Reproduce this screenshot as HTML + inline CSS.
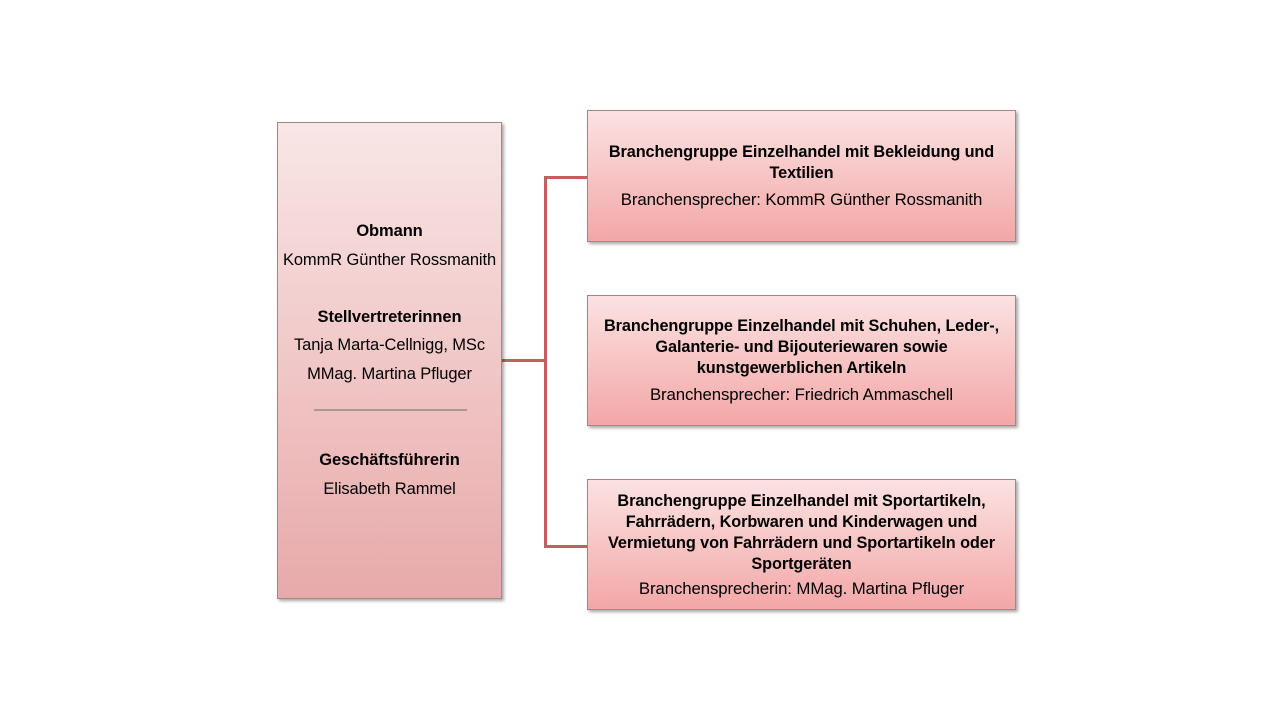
<!DOCTYPE html>
<html><head><meta charset="utf-8"><style>
body{margin:0;width:1284px;height:722px;background:#fff;position:relative;overflow:hidden;font-family:"Liberation Sans",sans-serif;color:#000}
.box{position:absolute;box-sizing:border-box;border:1px solid #a08888;box-shadow:2px 2px 3px rgba(0,0,0,.35);text-align:center;white-space:nowrap}
.l{left:277px;top:122px;width:225px;height:477px;background:linear-gradient(#f9e6e6,#e8a9a9)}
.r{left:587px;width:429px;background:linear-gradient(#fbe2e2,#f3a7a7);display:flex;flex-direction:column;justify-content:center;align-items:center}
.t{position:absolute;left:0;width:100%;text-align:center;font-size:16.5px;line-height:22px;letter-spacing:-0.1px}
b{font-weight:bold}
.r b{font-size:16.3px;line-height:21px;letter-spacing:-0.1px;display:block}
.r span{font-size:16.8px;letter-spacing:-0.1px;display:block;margin-top:6px}
.ln{position:absolute;background:#c0605f}
</style></head><body>
<div class="ln" style="left:502px;top:359px;width:45px;height:3px"></div>
<div class="ln" style="left:544px;top:176px;width:3px;height:372px"></div>
<div class="ln" style="left:544px;top:176px;width:43px;height:3px"></div>
<div class="ln" style="left:544px;top:545px;width:43px;height:3px"></div>

<div class="box l">
<div class="t" style="top:97px"><b>Obmann</b></div>
<div class="t" style="top:126px">KommR Günther Rossmanith</div>
<div class="t" style="top:183px"><b>Stellvertreterinnen</b></div>
<div class="t" style="top:211px">Tanja Marta-Cellnigg, MSc</div>
<div class="t" style="top:240px">MMag. Martina Pfluger</div>
<div style="position:absolute;left:36px;top:286px;width:153px;height:2px;background:#a89898"></div>
<div class="t" style="top:326px"><b>Geschäftsführerin</b></div>
<div class="t" style="top:355px">Elisabeth Rammel</div>
</div>

<div class="box r" style="top:110px;height:132px">
<b>Branchengruppe Einzelhandel mit Bekleidung und<br>Textilien</b>
<span>Branchensprecher: KommR Günther Rossmanith</span>
</div>
<div class="box r" style="top:295px;height:131px">
<b>Branchengruppe Einzelhandel mit Schuhen, Leder-,<br>Galanterie- und Bijouteriewaren sowie<br>kunstgewerblichen Artikeln</b>
<span>Branchensprecher: Friedrich Ammaschell</span>
</div>
<div class="box r" style="top:479px;height:131px">
<b>Branchengruppe Einzelhandel mit Sportartikeln,<br>Fahrrädern, Korbwaren und Kinderwagen und<br>Vermietung von Fahrrädern und Sportartikeln oder<br>Sportgeräten</b>
<span style="margin-top:4px">Branchensprecherin: MMag. Martina Pfluger</span>
</div>
</body></html>
